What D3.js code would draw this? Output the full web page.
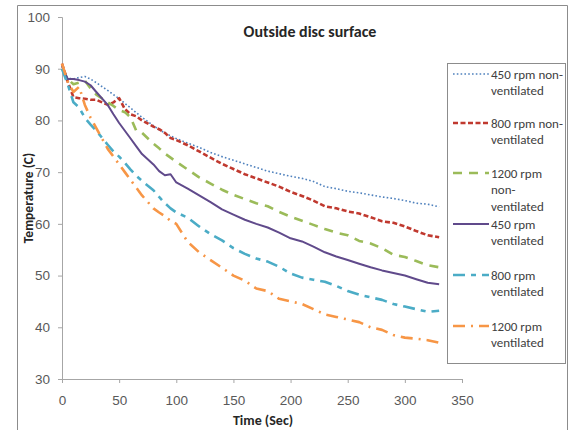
<!DOCTYPE html>
<html><head><meta charset="utf-8">
<script src="https://cdn.jsdelivr.net/npm/d3@7"></script>
<style>body{margin:0;background:#fff}svg{display:block;font-family:Calibri,Carlito,"Liberation Sans",Arial,sans-serif}</style>
</head><body><svg id="c" width="575" height="430"></svg>
<script>
const times = [0,5,10,15,20,25,30,40,45,50,55,60,65,70,80,85,90,95,100,110,120,130,140,150,160,170,180,190,200,210,220,230,240,250,260,270,280,290,300,310,320,330];
const s450nv  = [90.5,88.2,88,88.3,88.5,88,87.3,85.8,85,84.2,83.3,82.4,81.5,80.6,79,78.2,77.6,77,76.5,75.6,74.8,73.8,73,72.3,71.6,70.9,70.2,69.7,69.2,68.8,68.2,67.2,66.8,66.3,66,65.6,65.2,64.9,64.5,64,63.8,63.3];
const s800nv  = [91,87.5,84.5,84.3,84.2,84,84,83,83.5,84.3,82.2,81.2,80.8,80,78.8,78.3,77.6,76.6,76.2,75.2,74,72.8,71.6,70.6,69.6,68.8,68,67.2,66.2,65.4,64.5,63.4,63,62.4,62,61.3,60.5,60.2,59.5,58.6,57.8,57.4];
const s1200nv = [90,88,87,87.3,87.7,86.2,85,83.5,82.8,82,81.6,80.6,78,77.6,75.5,74.6,73.6,72.8,72,70.5,69,67.8,66.6,65.6,64.8,64,63.4,62.3,61.4,60.6,59.8,59,58.3,57.8,56.7,56.2,55.3,54,53.6,52.8,52,51.6];
const s450v   = [90.5,88,88,87.8,87.5,86.8,85.5,83,81.2,79.5,78,76.5,75,73.5,71.5,70.2,69.4,69.6,68,66.8,65.5,64.2,62.8,61.8,60.8,60,59.3,58.3,57.2,56.6,55.6,54.5,53.7,53,52.3,51.6,51,50.5,50,49.3,48.6,48.3];
const s800v   = [90,87,83.5,82.5,80.5,79.2,78,75.3,74,73,71.8,70.5,69.3,68.3,66.5,65.2,64,63,62.2,61.2,59.5,58,56.8,55.3,54.2,53.3,52.7,51.7,50.4,49.6,49.2,48.8,48,47,46.3,45.8,45.3,44.5,44,43.5,43,43.2];
const s1200v  = [91,87.5,85.5,86.5,83,80.5,78.5,74.5,73,71.5,70,68.5,67,65.5,63,62.2,61.5,60.6,60,56.5,54.5,53,51.5,50,49,47.5,47,45.5,45,44.5,43.5,42.5,42,41.5,41,40,39.5,38.5,38,37.8,37.5,37];
const seriesNames = [["450 rpm non-","ventilated"],["800 rpm non-","ventilated"],["1200 rpm","non-","ventilated"],["450 rpm","ventilated"],["800 rpm","ventilated"],["1200 rpm","ventilated"]];
const xTicks = [0,50,100,150,200,250,300,350];
const yTicks = [30,40,50,60,70,80,90,100];
const titleText = "Outside disc surface";
const xTitle = "Time (Sec)";
const yTitle = "Temperature (C)";

const allSeries = [s450nv,s800nv,s1200nv,s450v,s800v,s1200v];
const styles = [
  {c:"#4f81bd", w:1.6, d:"1.6,2.2"},
  {c:"#c0392f", w:2.6, d:"5,2.5"},
  {c:"#9bbb59", w:2.6, d:"9,7"},
  {c:"#604a8b", w:2, d:null},
  {c:"#4bacc6", w:2.6, d:"12,6,5,6"},
  {c:"#f79646", w:2.6, d:"12,6,2,6"}
];

const svg = d3.select("#c");
svg.append("path").attr("d","M17.5,430 V5.5 H567.5 V430").attr("fill","none").attr("stroke","#8c8c8c").attr("stroke-width",1);

const x = d3.scaleLinear().domain([0,350]).range([62,462]);
const y = d3.scaleLinear().domain([30,100]).range([379,17]);

const xa = svg.append("g").attr("transform","translate(0,379)")
  .call(d3.axisBottom(x).tickValues(xTicks).tickSize(4).tickPadding(12));
const ya = svg.append("g").attr("transform","translate(62,0)")
  .call(d3.axisLeft(y).tickValues(yTicks).tickSize(4).tickPadding(8));
[xa,ya].forEach(a=>{
  a.selectAll("path,line").attr("stroke","#a6a6a6");
  a.selectAll("text").attr("fill","#595959").attr("font-size","13.5px");
});

const line = d3.line().x((d,i)=>x(times[i])).y(d=>y(d));
allSeries.forEach((s,k)=>{
  svg.append("path").datum(s).attr("d",line).attr("fill","none")
    .attr("stroke",styles[k].c).attr("stroke-width",styles[k].w)
    .attr("stroke-dasharray",styles[k].d).attr("stroke-linejoin","round");
});

svg.append("text").attr("x",310).attr("y",37).attr("text-anchor","middle")
  .attr("font-weight","bold").attr("font-size","16px").attr("fill","#262626").text(titleText);
svg.append("text").attr("x",263).attr("y",425).attr("text-anchor","middle")
  .attr("font-weight","bold").attr("font-size","14px").attr("fill","#262626").text(xTitle);
svg.append("text").attr("transform","translate(33,198) rotate(-90)").attr("text-anchor","middle")
  .attr("font-weight","bold").attr("font-size","13.5px").attr("fill","#262626").text(yTitle);

svg.append("rect").attr("x",447.5).attr("y",63.5).attr("width",118).attr("height",300)
  .attr("fill","#fff").attr("stroke","#8c8c8c");
const ly = [74,123,173,224,275,326];
seriesNames.forEach((lines,k)=>{
  svg.append("line").attr("x1",453).attr("x2",489).attr("y1",ly[k]).attr("y2",ly[k])
    .attr("stroke",styles[k].c).attr("stroke-width",styles[k].w).attr("stroke-dasharray",styles[k].d);
  lines.forEach((t,j)=>{
    svg.append("text").attr("x",491).attr("y",ly[k]+4.5+j*16.5).attr("font-size","13px")
      .attr("fill","#404040").text(t);
  });
});
</script></body></html>
